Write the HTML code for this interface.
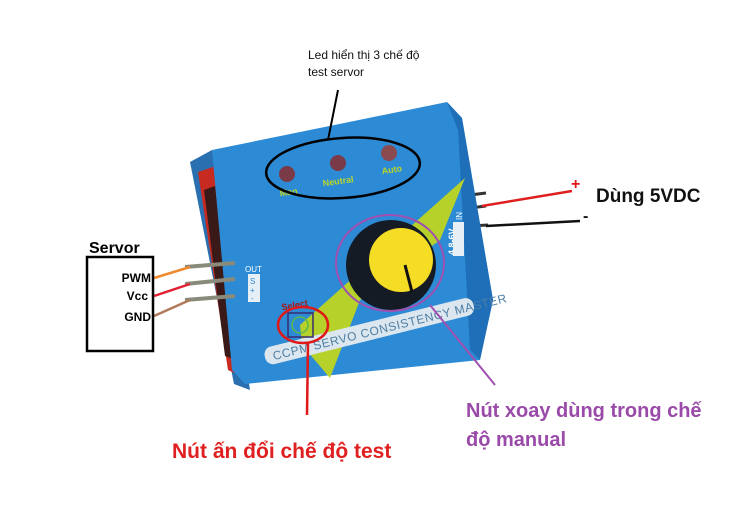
<!DOCTYPE html>
<html><head><meta charset="utf-8"><style>
html,body{margin:0;padding:0;background:#fff;width:733px;height:516px;overflow:hidden}
svg{display:block}
text{font-family:"Liberation Sans","DejaVu Sans",sans-serif}
</style></head><body>
<svg width="733" height="516" viewBox="0 0 733 516" xmlns="http://www.w3.org/2000/svg">
<!-- right pins -->
<line x1="470" y1="195" x2="486" y2="193" stroke="#333" stroke-width="3"/>
<line x1="470" y1="208" x2="486" y2="206" stroke="#333" stroke-width="3"/>
<line x1="470" y1="226" x2="488" y2="225" stroke="#333" stroke-width="3"/>
<line x1="482" y1="206" x2="572" y2="191" stroke="#e02020" stroke-width="2.5"/>
<line x1="486" y1="226" x2="580" y2="221" stroke="#111" stroke-width="2.5"/>
<!-- body side -->
<polygon points="190,162 212,150 250,390 234,384" fill="#2a6fb0"/>
<polygon points="198,172 222,164 245,378 228,370" fill="#c62a20"/>
<polygon points="204,190 215,186 236,360 225,356" fill="#3a1a18"/>
<!-- body main -->
<polygon points="212,150 447,102 462,118 493,300 480,360 245,384 232,370" fill="#2d8bd6"/>
<polygon points="447,102 462,118 493,300 480,360 470,350 458,130" fill="#1f6fb8"/>
<!-- yellow-green lightning -->
<polygon points="465,178 300,325 302,345 330,378 360,300 440,240" fill="#b6d12a"/>
<!-- label strip -->
<g transform="rotate(-14 370 332)">
<rect x="262" y="322" width="215" height="18" rx="8" fill="#dbe6ee"/>
<text x="270" y="336" font-size="12" fill="#4d7fa6" letter-spacing="0.6">CCPM SERVO CONSISTENCY MASTER</text>
</g>
<!-- LEDs -->
<circle cx="287" cy="174" r="8" fill="#7a3a48"/>
<circle cx="338" cy="163" r="8" fill="#7a3a48"/>
<circle cx="389" cy="153" r="8" fill="#8a4a50"/>
<text x="280" y="195" font-size="9" font-weight="bold" fill="#b8d62a" transform="rotate(-8 290 195)">Man</text>
<text x="323" y="184" font-size="9" font-weight="bold" fill="#b8d62a" transform="rotate(-8 340 184)">Neutral</text>
<text x="382" y="173" font-size="9" font-weight="bold" fill="#b8d62a" transform="rotate(-8 390 173)">Auto</text>
<ellipse cx="343" cy="168" rx="77" ry="30" fill="none" stroke="#000" stroke-width="2.5" transform="rotate(-4 343 168)"/>
<line x1="328" y1="140" x2="338" y2="90" stroke="#000" stroke-width="2"/>
<!-- IN/OUT labels -->
<text x="245" y="272" font-size="8" fill="#fff">OUT</text>
<rect x="248" y="274" width="12" height="28" fill="#e6eef6"/>
<text x="250" y="284" font-size="8" fill="#2d8bd6">S</text>
<text x="250" y="293" font-size="8" fill="#2d8bd6">+</text>
<text x="251" y="301" font-size="8" fill="#2d8bd6">-</text>
<text x="455" y="255" font-size="9" font-weight="bold" fill="#fff" transform="rotate(-90 455 255)">4.8-6V</text>
<rect x="453" y="222" width="11" height="34" fill="#e6eef6"/>
<text x="462" y="220" font-size="8" fill="#fff" transform="rotate(-90 462 220)">IN</text>
<!-- knob -->
<circle cx="391" cy="265" r="45" fill="#151b25"/>
<circle cx="401" cy="260" r="32" fill="#f5dc25"/>
<line x1="405" y1="265" x2="412" y2="292" stroke="#111" stroke-width="3"/>
<ellipse cx="390" cy="263" rx="54" ry="48" fill="none" stroke="#a050b0" stroke-width="2"/>
<line x1="430" y1="305" x2="495" y2="385" stroke="#a050b0" stroke-width="2"/>
<!-- select -->
<text x="282" y="309" font-size="9" font-weight="bold" fill="#a01818" transform="rotate(-10 290 309)">Select</text>
<rect x="288" y="313" width="25" height="24" fill="none" stroke="#3a2a70" stroke-width="1.5"/>
<circle cx="300" cy="325" r="8" fill="none" stroke="#5ab84a" stroke-width="1.5"/>
<ellipse cx="303" cy="325" rx="25" ry="18" fill="none" stroke="#e01818" stroke-width="2.5"/>
<line x1="308" y1="343" x2="307" y2="415" stroke="#e01818" stroke-width="2.5"/>
<!-- left pins -->
<line x1="185" y1="267" x2="235" y2="263" stroke="#8a8a7a" stroke-width="4"/>
<line x1="185" y1="284" x2="235" y2="279" stroke="#8a8a7a" stroke-width="4"/>
<line x1="185" y1="300" x2="235" y2="296" stroke="#8a8a7a" stroke-width="4"/>
<line x1="154" y1="278" x2="190" y2="267" stroke="#f08a30" stroke-width="2.5"/>
<line x1="154" y1="296" x2="190" y2="284" stroke="#e02030" stroke-width="2.5"/>
<line x1="154" y1="316" x2="190" y2="300" stroke="#b07a5a" stroke-width="2.5"/>
<!-- servo box -->
<rect x="87" y="257" width="66" height="94" fill="none" stroke="#000" stroke-width="2.5"/>
<text x="89" y="253" font-size="16" font-weight="bold" fill="#000">Servor</text>
<text x="151" y="282" font-size="12" font-weight="bold" text-anchor="end">PWM</text>
<text x="148" y="300" font-size="12" font-weight="bold" text-anchor="end">Vcc</text>
<text x="151" y="321" font-size="12" font-weight="bold" text-anchor="end">GND</text>
<!-- annotations -->
<text x="308" y="59" font-size="12" fill="#111">Led hiển thị 3 chế độ</text>
<text x="308" y="76" font-size="12" fill="#111">test servor</text>
<text x="571" y="189" font-size="16" font-weight="bold" fill="#e01818">+</text>
<text x="583" y="221" font-size="16" font-weight="bold" fill="#111">-</text>
<text x="596" y="202" font-size="19" font-weight="bold" fill="#111">Dùng 5VDC</text>
<text x="466" y="417" font-size="20" font-weight="bold" fill="#9a4aa8">Nút xoay dùng trong chế</text>
<text x="466" y="446" font-size="20" font-weight="bold" fill="#9a4aa8">độ manual</text>
<text x="172" y="458" font-size="21" font-weight="bold" fill="#e02020">Nút ấn đổi chế độ test</text>
</svg>
</body></html>
